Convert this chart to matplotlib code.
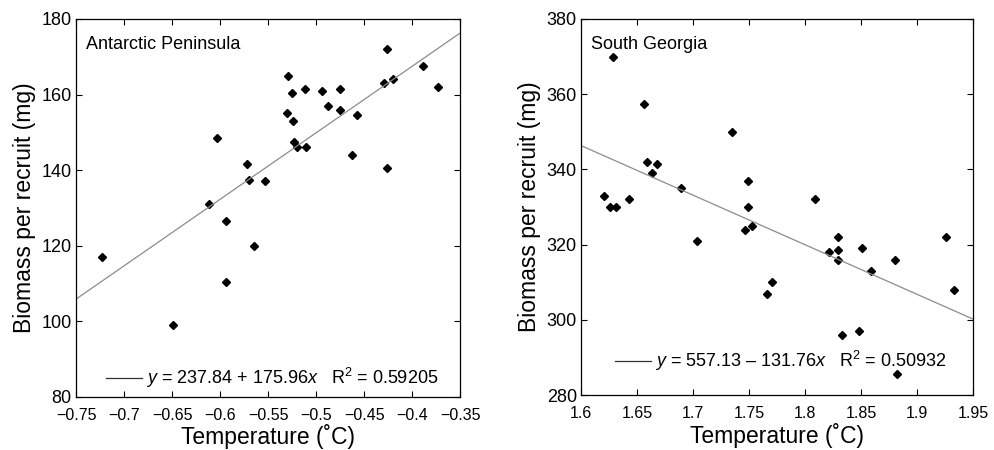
import matplotlib
matplotlib.use("Agg")
from matplotlib import pyplot as plt
from matplotlib import font_manager
from matplotlib.lines import Line2D
import numpy as np

names = {f.name for f in font_manager.fontManager.ttflist}
narrow = "Liberation Sans Narrow" if "Liberation Sans Narrow" in names else "Liberation Sans"
plt.rcParams["font.family"] = ["Liberation Sans", "DejaVu Sans"]
plt.rcParams["mathtext.fontset"] = "custom"
plt.rcParams["mathtext.it"] = "Liberation Sans:italic"
plt.rcParams["mathtext.rm"] = "Liberation Sans"

# Antarctic Peninsula
ap_temp = [-0.723, -0.649, -0.611, -0.603, -0.594, -0.594, -0.572, -0.570, -0.565, -0.553,
           -0.529, -0.530, -0.525, -0.524, -0.523, -0.520, -0.511, -0.510, -0.494, -0.488,
           -0.475, -0.475, -0.463, -0.457, -0.426, -0.429, -0.426, -0.420, -0.389, -0.373]
ap_bpr = [117, 99, 131, 148.5, 126.5, 110.5, 141.5, 137.5, 120, 137,
          165, 155, 160.5, 153, 147.5, 146, 161.5, 146, 161, 157,
          161.5, 156, 144, 154.5, 172, 163, 140.5, 164, 167.5, 162]
ap_fit = (237.84, 175.96)

# South Georgia
sg_temp = [1.6205, 1.6259, 1.6286, 1.631, 1.6429, 1.6563, 1.659, 1.6634, 1.668, 1.689,
           1.7036, 1.7348, 1.7464, 1.749, 1.749, 1.7527, 1.766, 1.7705, 1.809, 1.8214,
           1.8295, 1.8295, 1.8295, 1.833, 1.848, 1.851, 1.859, 1.880, 1.882, 1.926, 1.933]
sg_bpr = [333, 330, 370, 330, 332, 357.5, 342, 339, 341.5, 335,
          321, 350, 324, 337, 330, 325, 307, 310, 332, 318,
          322, 318.5, 316, 296, 297, 319, 313, 316, 285.5, 322, 308]
sg_fit = (557.13, -131.76)

fig = plt.figure(figsize=(9.95, 4.5), dpi=100)
ax1 = fig.add_axes([0.0764, 0.118, 0.386, 0.84])
ax2 = fig.add_axes([0.584, 0.122, 0.394, 0.836])


def panel(ax, xs, ys, fit, xlim, ylim, xticks, yticks, title, eq, leg_y):
    ax.plot(xs, ys, linestyle="none", marker="D", markersize=4, color="black")
    lx = np.array(xlim)
    ax.plot(lx, fit[0] + fit[1] * lx, color="#8c8c8c", linewidth=0.9)
    ax.set_xlim(*xlim)
    ax.set_ylim(*ylim)
    ax.set_xticks(xticks)
    ax.set_yticks(yticks)
    ax.set_xticklabels([("%g" % t).replace("-", "\u2212") for t in xticks],
                       family=narrow, fontsize=11.5)
    ax.set_yticklabels(["%g" % t for t in yticks], family=narrow, fontsize=13)
    ax.tick_params(top=True, right=True, direction="in", length=4, width=0.8, pad=3)
    ax.tick_params(axis="x", pad=8)
    for s in ax.spines.values():
        s.set_linewidth(0.9)
    ax.set_xlabel("Temperature (\u02daC)", family=narrow, fontsize=16.5, labelpad=1)
    ax.set_ylabel("Biomass per recruit (mg)", family=narrow, fontsize=16.5, labelpad=4)
    ax.text(0.025, 0.955, title, transform=ax.transAxes, fontsize=13, va="top", ha="left")
    h = Line2D([], [], color="#333333", linewidth=0.9)
    ax.legend([h], [eq], loc="lower center", frameon=False, fontsize=13,
              handlelength=2.0, handletextpad=0.2, bbox_to_anchor=(0.51, leg_y))


panel(ax1, ap_temp, ap_bpr, ap_fit, (-0.75, -0.35), (80, 180),
      [-0.75, -0.7, -0.65, -0.6, -0.55, -0.5, -0.45, -0.4, -0.35],
      [80, 100, 120, 140, 160, 180], "Antarctic Peninsula",
      r"$y$ = 237.84 + 175.96$x$   R$^2$ = 0.59205", -0.026)
panel(ax2, sg_temp, sg_bpr, sg_fit, (1.6, 1.95), (280, 380),
      [1.6, 1.65, 1.7, 1.75, 1.8, 1.85, 1.9, 1.95],
      [280, 300, 320, 340, 360, 380], "South Georgia",
      "$y$ = 557.13 \u2013 131.76$x$   R$^2$ = 0.50932", 0.016)

fig.savefig("out.png", dpi=100)
